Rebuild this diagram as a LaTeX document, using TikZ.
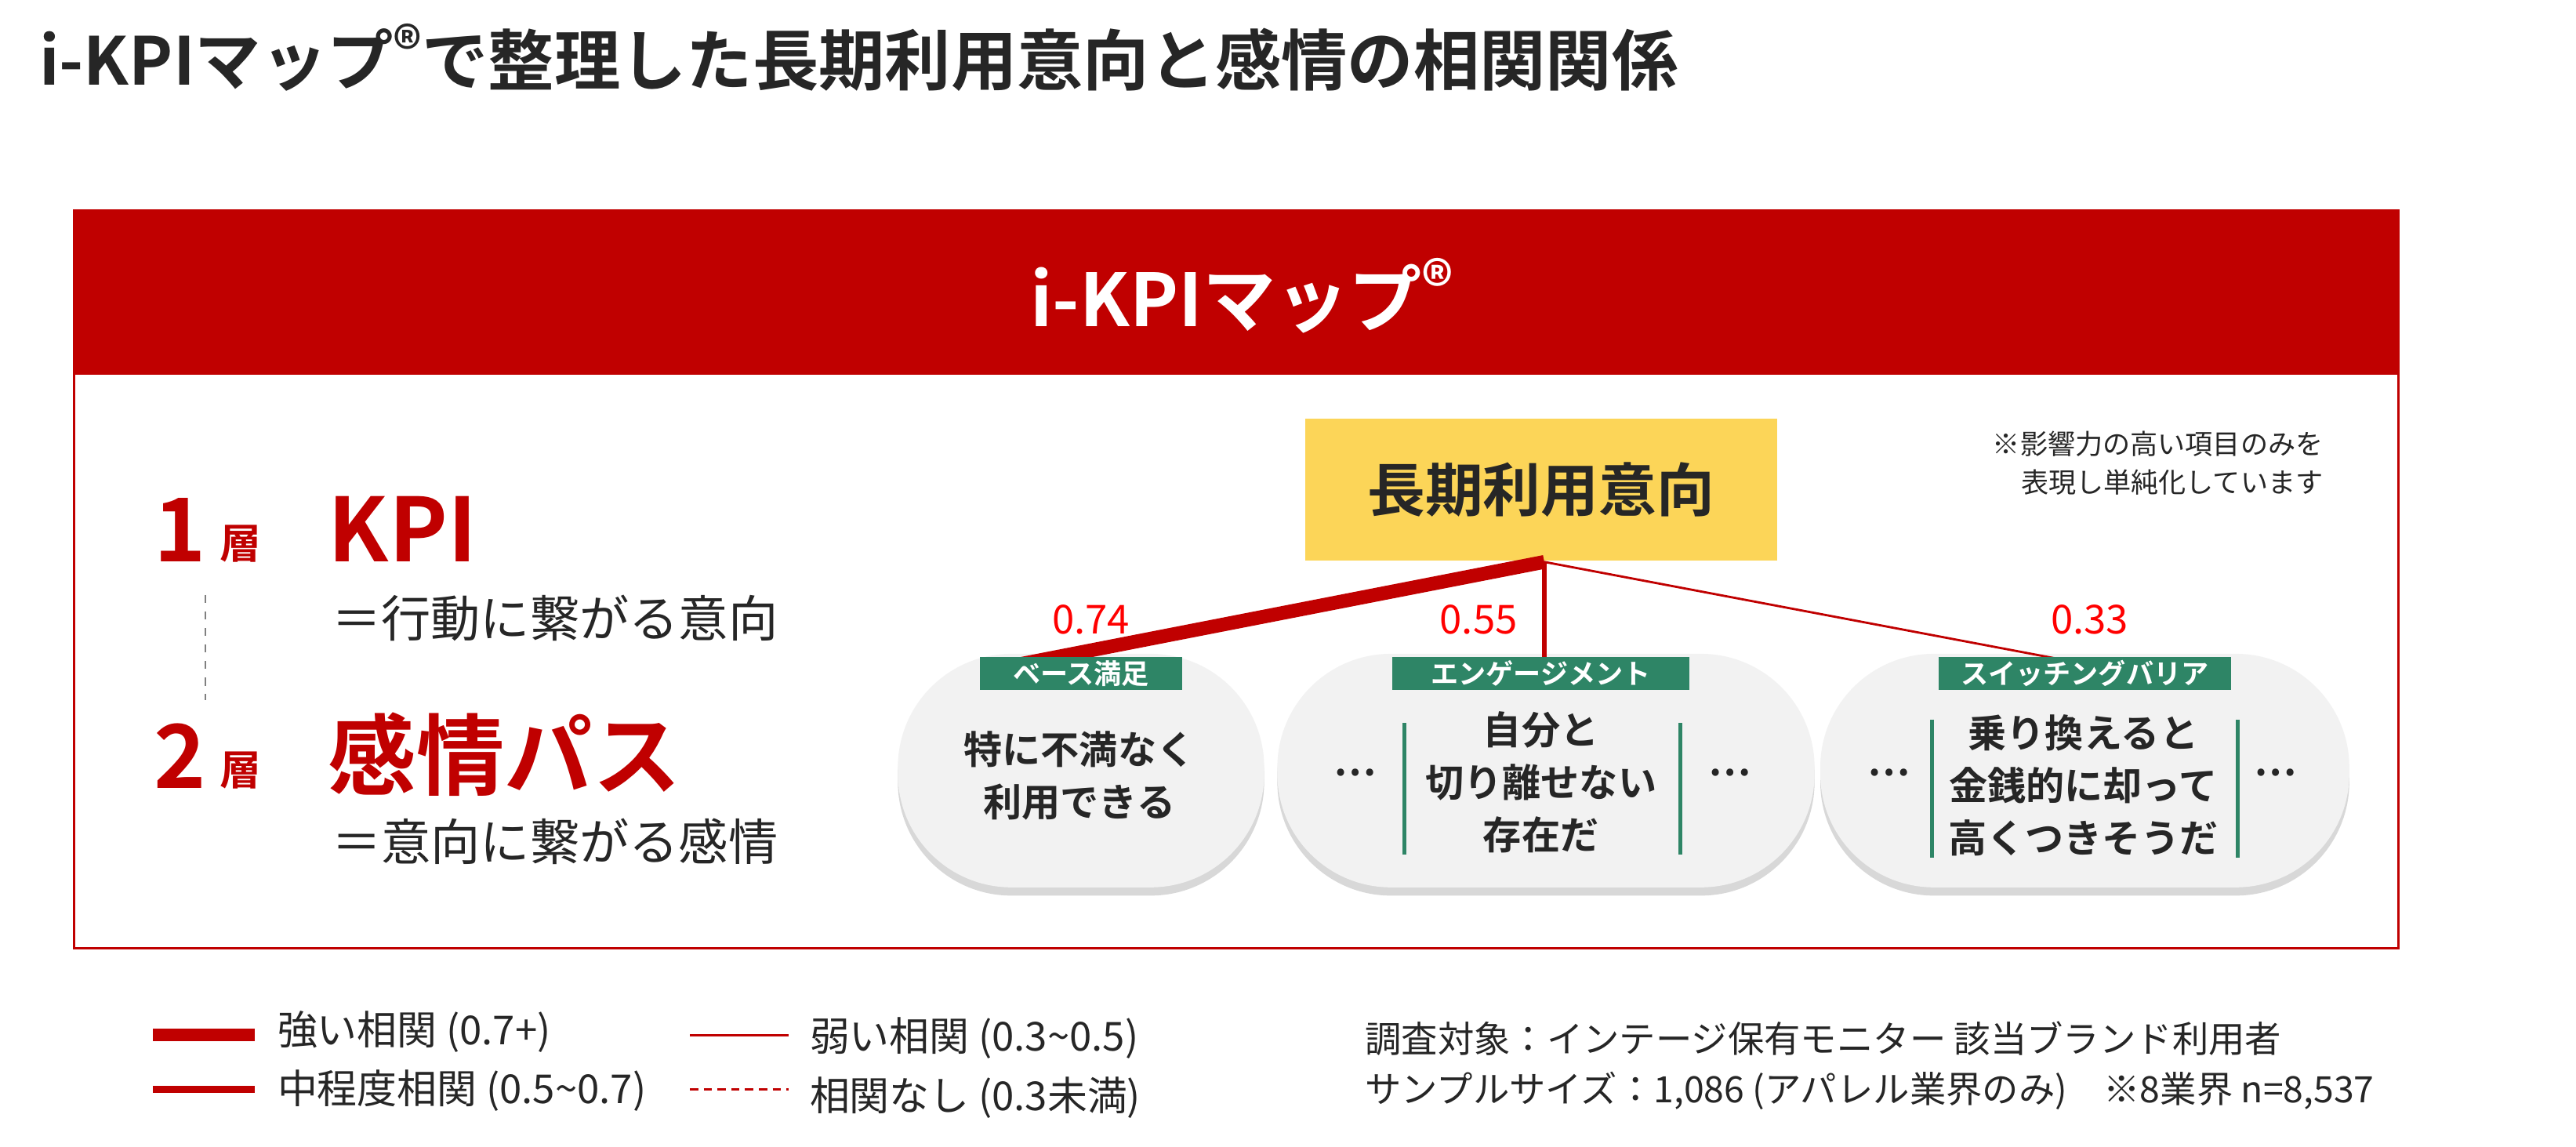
\documentclass[tikz,border=0pt]{standalone}
\usepackage{fontspec}
\setmainfont{Noto Sans CJK JP}[BoldFont={Noto Sans CJK JP Bold}]
\usetikzlibrary{positioning,shadows}
\definecolor{kred}{RGB}{192,0,0}
\definecolor{kgreen}{RGB}{46,133,102}
\definecolor{kyellow}{RGB}{252,213,88}
\definecolor{kgray}{RGB}{242,242,242}
\definecolor{ktext}{RGB}{38,38,38}
\newcommand\reg{\raisebox{0.45ex}{\scalebox{0.85}{®}}}
\tikzset{
	bubble/.style={fill=kgray,draw=none,rounded corners=1.45cm,minimum width={#1*0.02096cm},minimum height=2.98cm,
		drop shadow={shadow xshift=0pt,shadow yshift=-3pt,opacity=.3}},
	tag/.style={fill=kgreen,text=white,font=\bfseries\fontsize{10}{11}\selectfont,inner sep=1pt,minimum height=0.42cm,minimum width={#1*0.02096cm}},
	btext/.style={font=\bfseries\fontsize{14}{19}\selectfont,text=ktext,align=center},
	coef/.style={text=red,font=\fontsize{14.5}{15}\selectfont},
	bar/.style={kgreen,line width=1.4pt},
	legtext/.style={anchor=west,text=ktext,font=\fontsize{14.5}{16}\selectfont},
}
\begin{document}
\begin{tikzpicture}[x=0.02096cm,y=-0.02096cm]
	\useasboundingbox[fill=white] (0,0) rectangle (1568,698);
	\node[anchor=west,text=ktext,font=\bfseries\fontsize{24}{26}\selectfont] (title) at (18,35) {i-KPIマップ\reg で整理した長期利用意向と感情の相関関係};
	% frame
	\draw[kred,line width=0.8pt] (45,128) rectangle (1460,577);
	\fill[kred] (45,128) rectangle (1460,228);
	\node[text=white,font=\bfseries\fontsize{26.5}{28}\selectfont] (head) at (756,180) {i-KPIマップ\reg};
	% left side
	\node[anchor=base west,text=kred,font=\bfseries\fontsize{32}{34}\selectfont] (one) at (88,342) {1};
	\node[anchor=base west,text=kred,font=\bfseries\fontsize{15}{16}\selectfont] (l1) at (128,340) {層};
	\node[anchor=base west,text=kred,font=\bfseries\fontsize{32}{34}\selectfont] (kpi) at (194,342) {KPI};
	\node[anchor=west,text=ktext,font=\fontsize{18}{20}\selectfont] (kpid) at (196,376) {＝行動に繋がる意向};
	\node[anchor=base west,text=kred,font=\bfseries\fontsize{32}{34}\selectfont] (two) at (88,480) {2};
	\node[anchor=base west,text=kred,font=\bfseries\fontsize{15}{16}\selectfont] (l2) at (128,478) {層};
	\node[anchor=base west,text=kred,font=\bfseries\fontsize{32}{34}\selectfont] (emo) at (194,480) {感情パス};
	\node[anchor=west,text=ktext,font=\fontsize{18}{20}\selectfont] (emod) at (196,512) {＝意向に繋がる感情};
	\draw[gray,dashed] (125,362) -- (125,426);
	% target
	\node[fill=kyellow,minimum width=6.02cm,minimum height=1.82cm,text=ktext,font=\bfseries\fontsize{21}{23}\selectfont] (goal) at (938,298) {長期利用意向};
	\node[anchor=east,align=right,text=ktext,font=\fontsize{10}{14}\selectfont] (note) at (1420,282) {※影響力の高い項目のみを\\表現し単純化しています};
	% bubbles
	\node[bubble=223] (b1) at (658,469) {};
	\node[bubble=327] (b2) at (941,469) {};
	\node[bubble=322] (b3) at (1269,469) {};
	% paths
	\coordinate (top) at (940,342);
	\coordinate (e1) at (622,404);
	\coordinate (e2) at (940,402);
	\coordinate (e3) at (1258,402);
	\draw[kred,line width=5pt] (top) -- (e1);
	\draw[kred,line width=1.5pt] (top) -- (e2);
	\draw[kred,line width=0.8pt] (top) -- (e3);
	\node[coef] (c1) at (664,377) {0.74};
	\node[coef] (c2) at (900,377) {0.55};
	\node[coef] (c3) at (1272,377) {0.33};
	\node[tag=123] (t1) at (658,410) {ベース満足};
	\node[tag=181] (t2) at (938,410) {エンゲージメント};
	\node[tag=178] (t3) at (1269,410) {スイッチングバリア};
	\node[btext] (x1) at (657,472) {特に不満なく\\利用できる};
	\node[btext] (x2) at (938,476) {自分と\\切り離せない\\存在だ};
	\node[btext] (x3) at (1268,478) {乗り換えると\\金銭的に却って\\高くつきそうだ};
	\draw[bar] (855,440) -- (855,520) (1023,440) -- (1023,520);
	\draw[bar] (1176,438) -- (1176,522) (1362,438) -- (1362,522);
	\node[btext] (d1) at (825,470) {…};
	\node[btext] (d2) at (1053,470) {…};
	\node[btext] (d3) at (1150,470) {…};
	\node[btext] (d4) at (1385,470) {…};
	% legend
	\draw[kred,line width=4.5pt] (93,630) coordinate (s1) -- (155,630) coordinate (s2);
	\draw[kred,line width=2.5pt] (93,663) coordinate (m1) -- (155,663) coordinate (m2);
	\draw[kred,line width=1pt] (420,630) coordinate (w1) -- (480,630) coordinate (w2);
	\draw[kred,line width=1pt,dash pattern=on 3pt off 2pt] (420,663) coordinate (n1) -- (480,663) coordinate (n2);
	\node[legtext] (ls) at (163,628) {強い相関 (0.7+)};
	\node[legtext] (lm) at (163,664) {中程度相関 (0.5\textasciitilde0.7)};
	\node[legtext] (lw) at (487,632) {弱い相関 (0.3\textasciitilde0.5)};
	\node[legtext] (ln) at (487,668) {相関なし (0.3未満)};
	\node[legtext,font=\fontsize{13.2}{15}\selectfont] (s1t) at (825,632) {調査対象：インテージ保有モニター 該当ブランド利用者};
	\node[legtext,font=\fontsize{13.2}{15}\selectfont] (s2t) at (825,664) {サンプルサイズ：1,086 (アパレル業界のみ)\quad ※8業界 n=8,537};
\end{tikzpicture}
\end{document}
